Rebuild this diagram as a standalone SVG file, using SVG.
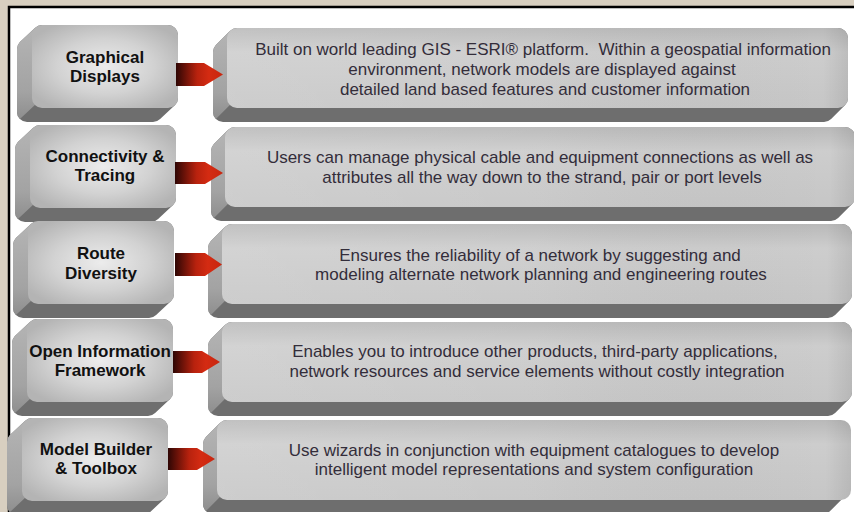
<svg xmlns="http://www.w3.org/2000/svg" xmlns:xlink="http://www.w3.org/1999/xlink" width="854" height="512" viewBox="0 0 854 512">
<defs>
  <radialGradient id="lface" cx="0.5" cy="0.5" r="0.6">
    <stop offset="0" stop-color="#ececec"/>
    <stop offset="0.55" stop-color="#d2d2d2"/>
    <stop offset="1" stop-color="#b4b4b4"/>
  </radialGradient>
  <linearGradient id="rface" x1="0" y1="0" x2="0" y2="1">
    <stop offset="0" stop-color="#b9b9b9"/>
    <stop offset="0.3" stop-color="#cdcdcd"/>
    <stop offset="1" stop-color="#c6c6c6"/>
  </linearGradient>
  <linearGradient id="rfaceH" x1="0" y1="0" x2="1" y2="0">
    <stop offset="0" stop-color="#ffffff" stop-opacity="0.12"/>
    <stop offset="0.5" stop-color="#ffffff" stop-opacity="0.05"/>
    <stop offset="0.96" stop-color="#000000" stop-opacity="0"/>
    <stop offset="1" stop-color="#000000" stop-opacity="0.08"/>
  </linearGradient>
  <linearGradient id="bevel" x1="0" y1="0" x2="0" y2="1">
    <stop offset="0" stop-color="#b4b4b4"/>
    <stop offset="0.7" stop-color="#a3a3a3"/>
    <stop offset="1" stop-color="#8e8e8e"/>
  </linearGradient>
  <linearGradient id="arrowG" x1="0" y1="0" x2="1" y2="0">
    <stop offset="0" stop-color="#2e0604"/>
    <stop offset="0.45" stop-color="#b8220e"/>
    <stop offset="0.7" stop-color="#d42b12"/>
    <stop offset="1" stop-color="#c8260f"/>
  </linearGradient>
  <path id="lkHull" d="M10,0 H136 A10 10 0 0 1 146,10 V73 A10 10 0 0 1 143.1,80.1 L128.1,94.1 A10 10 0 0 1 121,97 H-5 A10 10 0 0 1 -15,87 V24 A10 10 0 0 1 -12.1,16.9 L2.9,2.9 A10 10 0 0 1 10,0 Z"/>
  <path id="lkBevel" d="M2.9,2.9 L-12.1,16.9 A10 10 0 0 0 -15,24 V87 A10 10 0 0 0 -12.1,94.1 L2.9,80.1 Z"/>
  <path id="rkBevel" d="M2.9,2.9 L-11.1,16.9 A10 10 0 0 0 -14,24 V84 A10 10 0 0 0 -11.1,91.1 L2.9,77.1 Z"/>
  <path id="rkHull621" d="M10,0 H611 A10 10 0 0 1 621,10 V70 A10 10 0 0 1 618.1,77.1 L604.1,91.1 A10 10 0 0 1 597,94 H-4 A10 10 0 0 1 -14,84 V24 A10 10 0 0 1 -11.1,16.9 L2.9,2.9 A10 10 0 0 1 10,0 Z"/>
  <path id="rkHull630" d="M10,0 H620 A10 10 0 0 1 630,10 V70 A10 10 0 0 1 627.1,77.1 L613.1,91.1 A10 10 0 0 1 606,94 H-4 A10 10 0 0 1 -14,84 V24 A10 10 0 0 1 -11.1,16.9 L2.9,2.9 A10 10 0 0 1 10,0 Z"/>
</defs>
<style>
  .hull { fill: #6e6e6e; }
  .bev { fill: url(#bevel); }
  .lface { fill: url(#lface); }
  .rface { fill: url(#rface); }
  .rsheen { fill: url(#rfaceH); }
  .ltxt { font-family: "Liberation Sans", Arial, sans-serif; font-weight: bold; font-size: 17px; fill: #111111; text-anchor: middle; }
  .rtxt { font-family: "Liberation Sans", Arial, sans-serif; font-size: 17px; fill: #332d3a; text-anchor: middle; white-space: pre; }
  .arrow { fill: url(#arrowG); }
</style>

<!-- background -->
<rect x="0" y="0" width="854" height="512" fill="#d8cfc0"/>
<rect x="9" y="7" width="850" height="510" fill="#ffffff" stroke="#000000" stroke-width="2.5"/>

<!-- left keycaps -->
<g id="node-graphical-displays">
  <g transform="translate(32,25)">
    <use xlink:href="#lkHull" class="hull"/>
    <use xlink:href="#lkBevel" class="bev"/>
    <rect x="0" y="0" width="146" height="83" rx="10" class="lface"/>
  </g>
  <text class="ltxt" x="105" y="63">Graphical</text>
  <text class="ltxt" x="105" y="82">Displays</text>
</g>
<g id="node-connectivity-tracing">
  <g transform="translate(30,125)">
    <use xlink:href="#lkHull" class="hull"/>
    <use xlink:href="#lkBevel" class="bev"/>
    <rect x="0" y="0" width="146" height="83" rx="10" class="lface"/>
  </g>
  <text class="ltxt" x="105" y="162">Connectivity &amp;</text>
  <text class="ltxt" x="105" y="181">Tracing</text>
</g>
<g id="node-route-diversity">
  <g transform="translate(28,221)">
    <use xlink:href="#lkHull" class="hull"/>
    <use xlink:href="#lkBevel" class="bev"/>
    <rect x="0" y="0" width="146" height="83" rx="10" class="lface"/>
  </g>
  <text class="ltxt" x="101" y="259">Route</text>
  <text class="ltxt" x="101" y="279">Diversity</text>
</g>
<g id="node-open-information">
  <g transform="translate(27,319)">
    <use xlink:href="#lkHull" class="hull"/>
    <use xlink:href="#lkBevel" class="bev"/>
    <rect x="0" y="0" width="146" height="83" rx="10" class="lface"/>
  </g>
  <text class="ltxt" x="100" y="357">Open Information</text>
  <text class="ltxt" x="100" y="376">Framework</text>
</g>
<g id="node-model-builder">
  <g transform="translate(22,418)">
    <use xlink:href="#lkHull" class="hull"/>
    <use xlink:href="#lkBevel" class="bev"/>
    <rect x="0" y="0" width="146" height="83" rx="10" class="lface"/>
  </g>
  <text class="ltxt" x="96" y="455">Model Builder</text>
  <text class="ltxt" x="96" y="474">&amp; Toolbox</text>
</g>

<!-- right keycaps -->
<g id="node-desc-graphical">
  <g transform="translate(227,28)">
    <use xlink:href="#rkHull621" class="hull"/>
    <use xlink:href="#rkBevel" class="bev"/>
    <rect x="0" y="0" width="621" height="80" rx="10" class="rface"/>
    <rect x="0" y="0" width="621" height="80" rx="10" class="rsheen"/>
  </g>
  <text class="rtxt" x="543" y="55">Built on world leading GIS - ESRI® platform.  Within a geospatial information</text>
  <text class="rtxt" x="542" y="75">environment, network models are displayed against</text>
  <text class="rtxt" x="545" y="95">detailed land based features and customer information</text>
</g>
<g id="node-desc-connectivity">
  <g transform="translate(225,127)">
    <use xlink:href="#rkHull630" class="hull"/>
    <use xlink:href="#rkBevel" class="bev"/>
    <rect x="0" y="0" width="630" height="80" rx="10" class="rface"/>
    <rect x="0" y="0" width="630" height="80" rx="10" class="rsheen"/>
  </g>
  <text class="rtxt" x="540" y="163">Users can manage physical cable and equipment connections as well as</text>
  <text class="rtxt" x="542" y="183">attributes all the way down to the strand, pair or port levels</text>
</g>
<g id="node-desc-route">
  <g transform="translate(222,224)">
    <use xlink:href="#rkHull630" class="hull"/>
    <use xlink:href="#rkBevel" class="bev"/>
    <rect x="0" y="0" width="630" height="80" rx="10" class="rface"/>
    <rect x="0" y="0" width="630" height="80" rx="10" class="rsheen"/>
  </g>
  <text class="rtxt" x="540" y="261">Ensures the reliability of a network by suggesting and</text>
  <text class="rtxt" x="541" y="280">modeling alternate network planning and engineering routes</text>
</g>
<g id="node-desc-open">
  <g transform="translate(222,322)">
    <use xlink:href="#rkHull630" class="hull"/>
    <use xlink:href="#rkBevel" class="bev"/>
    <rect x="0" y="0" width="630" height="80" rx="10" class="rface"/>
    <rect x="0" y="0" width="630" height="80" rx="10" class="rsheen"/>
  </g>
  <text class="rtxt" x="535" y="357">Enables you to introduce other products, third-party applications,</text>
  <text class="rtxt" x="537" y="377">network resources and service elements without costly integration</text>
</g>
<g id="node-desc-model">
  <g transform="translate(217,420)">
    <use xlink:href="#rkHull630" class="hull"/>
    <use xlink:href="#rkBevel" class="bev"/>
    <rect x="0" y="0" width="634" height="80" rx="10" class="rface"/>
    <rect x="0" y="0" width="634" height="80" rx="10" class="rsheen"/>
  </g>
  <text class="rtxt" x="534" y="456">Use wizards in conjunction with equipment catalogues to develop</text>
  <text class="rtxt" x="534" y="475">intelligent model representations and system configuration</text>
</g>

<!-- connectors -->
<g id="connectors">
  <polygon class="arrow" points="176,63 204,63 223,74.5 204,86 176,86"/>
  <polygon class="arrow" points="175,162 205,162 223,173 205,184 175,184"/>
  <polygon class="arrow" points="175,253 205,253 222,264.5 205,276 175,276"/>
  <polygon class="arrow" points="173,351 202,351 220,362 202,373 173,373"/>
  <polygon class="arrow" points="168,448 197,448 215,459 197,470 168,470"/>
</g>
</svg>
